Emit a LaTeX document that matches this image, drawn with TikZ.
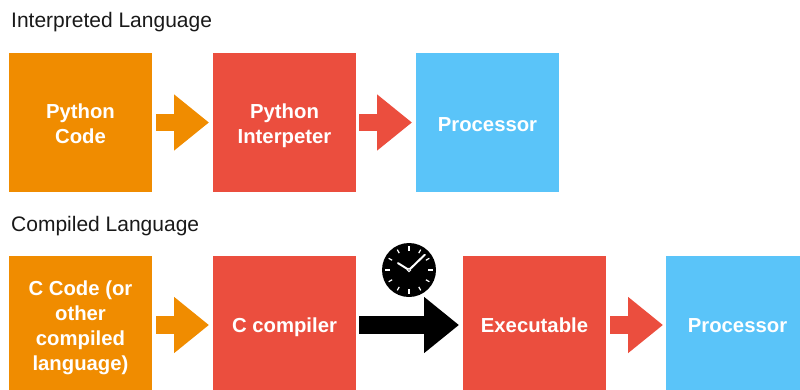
\documentclass[tikz,border=0pt]{standalone}
\usepackage{fontspec}
\setmainfont{Liberation Sans}
\usetikzlibrary{arrows.meta,calc}
\definecolor{myorange}{HTML}{F08C00}
\definecolor{myred}{HTML}{EB4E3E}
\definecolor{myblue}{HTML}{5AC4F9}
\newcommand{\blk}[1]{\raisebox{-3.5pt}[\height][\depth]{\begin{tabular}{@{}c@{}}#1\end{tabular}}}
\tikzset{
 blockbox/.style={minimum width=143pt,minimum height=139pt,inner sep=0pt,outer sep=0pt,text=white,align=center,
   font=\fontsize{20.3}{25}\selectfont\bfseries},
 conn/.style={line width=17.5pt,-{Triangle[length=35pt,width=54pt]}},
 heading/.style={anchor=west,inner sep=0pt,font=\fontsize{21}{25}\selectfont,text=black!90},
}
\begin{document}
\begin{tikzpicture}[x=1pt,y=-1pt]
\useasboundingbox (0,0) rectangle (800,389);
\begin{scope}
\clip (0,0) rectangle (800,389);
\node[heading] (h1) at (11,22.5) {Interpreted Language};
\node[heading] (h2) at (11,226.5) {Compiled Language};
\node[blockbox,fill=myorange,anchor=north west] (a1) at (9,53) {\blk{Python\\Code}};
\node[blockbox,fill=myred,anchor=north west] (a2) at (213,53) {\blk{Python\\Interpeter}};
\node[blockbox,fill=myblue,anchor=north west] (a3) at (416,53) {\blk{Processor}};
\node[blockbox,fill=myorange,anchor=north west,minimum height=136pt] (b1) at (9,256) {\blk{C Code (or\\other\\compiled\\language)}};
\node[blockbox,fill=myred,anchor=north west,minimum height=136pt] (b2) at (213,256) {\blk{C compiler}};
\node[blockbox,fill=myred,anchor=north west,minimum height=136pt] (b3) at (463,256) {\blk{Executable}};
\node[blockbox,fill=myblue,anchor=north west,minimum height=136pt] (b4) at (666,256) {\blk{Processor}};
\draw[conn,myorange] ($(a1.east)+(4,0)$) -- ($(a2.west)+(-4,0)$);
\draw[conn,myred] ($(a2.east)+(3,0)$) -- ($(a3.west)+(-4,0)$);
\draw[conn,myorange] ($(b1.east)+(4,1)$) -- ($(b2.west)+(-4,1)$);
\draw[conn,black] ($(b2.east)+(3,1)$) -- ($(b3.west)+(-4,1)$);
\draw[conn,myred] ($(b3.east)+(4,1)$) -- ($(b4.west)+(-3,1)$);
\end{scope}
% clock
\coordinate (c) at (409,270);
\fill[black] (c) circle[radius=27];
\foreach \a in {30,60,120,150,210,240,300,330}{
 \draw[white,line width=1.2pt] ($(c)+(\a:19.5)$) -- ($(c)+(\a:23.5)$);
}
\foreach \a in {0,90,180,270}{
 \draw[white,line width=1.6pt] ($(c)+(\a:19)$) -- ($(c)+(\a:24)$);
}
\draw[white,line width=2pt,line cap=round] (c) -- ++(-44:22);
\draw[white,line width=2pt,line cap=round] (c) -- ++(-148:13);
\draw[white,line width=1pt,fill=black] (c) circle[radius=1.6];
\end{tikzpicture}
\end{document}
